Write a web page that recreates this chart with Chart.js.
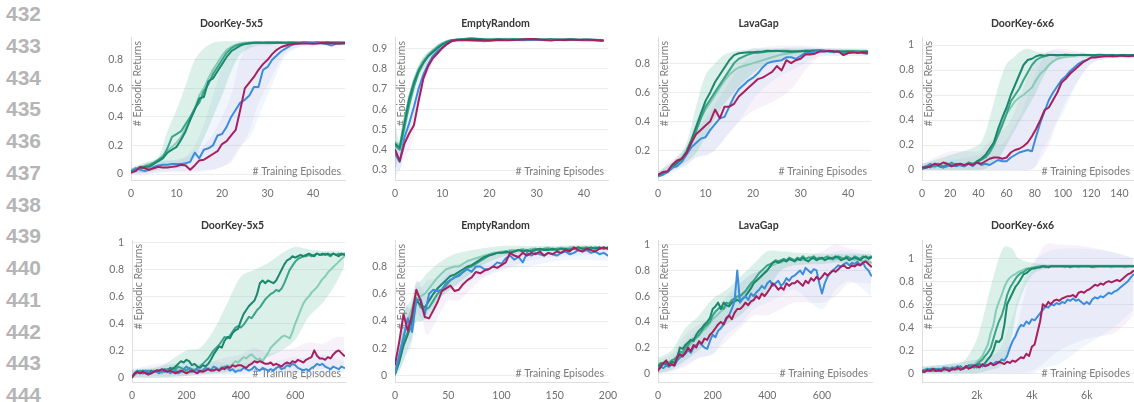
<!DOCTYPE html>
<html><head><meta charset="utf-8">
<script src="https://cdn.jsdelivr.net/npm/chart.js@4.4.0/dist/chart.umd.min.js"></script>
<style>
html,body{margin:0;padding:0;background:#fff;width:1134px;height:402px;overflow:hidden;position:relative}
.ln{position:absolute;left:6px;font:bold 21px "Liberation Sans",Arial,sans-serif;color:#b5b5b5;line-height:21px;white-space:nowrap}
canvas{position:absolute}
</style></head><body>
<div id="nums"></div>
<script>
// ---------------- DATA ----------------
const lineNumbers = [432,433,434,435,436,437,438,439,440,441,442,443,444];
const titles = ['DoorKey-5x5','EmptyRandom','LavaGap','DoorKey-6x6','DoorKey-5x5','EmptyRandom','LavaGap','DoorKey-6x6'];
const yAxisLabel = '# Episodic Returns';
const xAxisLabel = '# Training Episodes';

// Panel 1: DoorKey-5x5 (top)
const p1Step = 1;
const p1XTicks = [0,10,20,30,40];
const p1YTicks = [0,0.2,0.4,0.6,0.8];
const p1TealA = [0.02,0.03,0.04,0.05,0.05,0.07,0.09,0.11,0.15,0.17,0.19,0.24,0.3,0.38,0.45,0.53,0.54,0.65,0.67,0.72,0.77,0.82,0.86,0.88,0.9,0.91,0.915,0.92,0.92,0.92,0.921,0.92,0.922,0.92,0.92,0.921,0.92,0.92,0.922,0.92,0.92,0.921,0.92,0.923,0.92,0.922,0.92,0.92];
const p1TealB = [0.02,0.03,0.04,0.05,0.06,0.08,0.1,0.12,0.18,0.26,0.28,0.3,0.35,0.4,0.46,0.5,0.58,0.63,0.7,0.75,0.8,0.85,0.88,0.9,0.91,0.915,0.92,0.92,0.921,0.92,0.92,0.922,0.92,0.921,0.92,0.92,0.921,0.92,0.922,0.92,0.92,0.921,0.92,0.92,0.922,0.92,0.921,0.92];
const p1TealC = [0.03,0.04,0.05,0.06,0.07,0.08,0.1,0.13,0.16,0.19,0.22,0.26,0.32,0.38,0.46,0.55,0.6,0.67,0.73,0.78,0.83,0.87,0.89,0.905,0.915,0.92,0.92,0.921,0.92,0.92,0.922,0.92,0.921,0.92,0.92,0.921,0.92,0.92,0.922,0.92,0.921,0.92,0.92,0.921,0.92,0.92,0.921,0.92];
const p1Blue = [0.01,0.04,0.03,0.02,0.03,0.05,0.06,0.065,0.065,0.07,0.07,0.07,0.075,0.085,0.15,0.11,0.17,0.18,0.2,0.27,0.28,0.33,0.4,0.45,0.5,0.52,0.55,0.61,0.61,0.73,0.75,0.8,0.83,0.86,0.88,0.9,0.91,0.915,0.92,0.92,0.918,0.92,0.915,0.91,0.9,0.912,0.915,0.915];
const p1Pink = [0.01,0.02,0.05,0.04,0.03,0.04,0.05,0.045,0.045,0.05,0.055,0.065,0.06,0.03,0.06,0.095,0.1,0.12,0.14,0.16,0.21,0.23,0.27,0.31,0.45,0.6,0.64,0.68,0.73,0.77,0.8,0.84,0.87,0.89,0.9,0.91,0.912,0.915,0.915,0.915,0.912,0.915,0.92,0.915,0.918,0.915,0.915,0.918];
const p1BandX  = [0,3,6,8,10,12,14,16,18,20,22,24,26,28,30,32,34,37,40,47];
const p1TealLo = [0,0.01,0.03,0.04,0.04,0.06,0.12,0.25,0.4,0.55,0.72,0.84,0.88,0.9,0.9,0.91,0.91,0.91,0.91,0.91];
const p1TealHi = [0.04,0.08,0.12,0.3,0.45,0.62,0.8,0.88,0.92,0.93,0.93,0.93,0.93,0.93,0.93,0.93,0.93,0.93,0.93,0.93];
const p1BlueLo = [0,0,0.01,0.02,0.02,0.02,0.02,0.03,0.03,0.05,0.1,0.2,0.25,0.4,0.55,0.7,0.83,0.89,0.9,0.9];
const p1BlueHi = [0.03,0.06,0.09,0.1,0.1,0.12,0.2,0.35,0.55,0.75,0.85,0.9,0.92,0.92,0.93,0.93,0.93,0.93,0.93,0.93];
const p1PinkLo = [0,0,0.01,0.01,0.01,0.01,0.01,0.02,0.03,0.05,0.08,0.18,0.3,0.5,0.62,0.75,0.85,0.89,0.9,0.9];
const p1PinkHi = [0.03,0.07,0.09,0.09,0.1,0.12,0.15,0.2,0.28,0.4,0.55,0.8,0.92,0.93,0.93,0.93,0.93,0.93,0.93,0.93];

// Panel 2: EmptyRandom (top)
const p2Step = 1;
const p2XTicks = [0,10,20,30,40];
const p2YTicks = [0.3,0.4,0.5,0.6,0.7,0.8,0.9];
const p2TealA = [0.43,0.41,0.53,0.65,0.73,0.79,0.83,0.86,0.88,0.9,0.918,0.93,0.938,0.941,0.943,0.945,0.948,0.947,0.945,0.943,0.942,0.943,0.944,0.942,0.943,0.944,0.943,0.942,0.944,0.945,0.943,0.942,0.943,0.944,0.942,0.941,0.943,0.944,0.943,0.942,0.941,0.942,0.941,0.94,0.939];
const p2TealB = [0.42,0.4,0.51,0.62,0.71,0.78,0.825,0.86,0.885,0.905,0.92,0.932,0.939,0.942,0.944,0.946,0.947,0.946,0.944,0.943,0.943,0.942,0.943,0.944,0.943,0.942,0.943,0.944,0.943,0.944,0.943,0.942,0.942,0.943,0.943,0.942,0.942,0.943,0.942,0.941,0.942,0.941,0.94,0.94,0.939];
const p2TealC = [0.44,0.42,0.55,0.66,0.74,0.8,0.84,0.87,0.89,0.91,0.925,0.935,0.94,0.942,0.944,0.945,0.946,0.945,0.944,0.943,0.942,0.943,0.943,0.944,0.943,0.943,0.942,0.943,0.944,0.944,0.943,0.943,0.942,0.943,0.942,0.942,0.943,0.943,0.942,0.942,0.941,0.942,0.941,0.94,0.94];
const p2Blue = [0.38,0.34,0.46,0.53,0.61,0.7,0.77,0.82,0.86,0.885,0.905,0.92,0.935,0.938,0.94,0.939,0.938,0.936,0.935,0.934,0.937,0.938,0.94,0.939,0.94,0.941,0.94,0.939,0.94,0.941,0.942,0.94,0.939,0.94,0.941,0.94,0.939,0.94,0.941,0.94,0.939,0.94,0.939,0.938,0.937];
const p2Pink = [0.4,0.345,0.43,0.48,0.52,0.64,0.75,0.81,0.85,0.875,0.9,0.92,0.935,0.94,0.94,0.94,0.941,0.94,0.94,0.939,0.938,0.94,0.941,0.94,0.939,0.94,0.941,0.943,0.944,0.945,0.944,0.942,0.94,0.938,0.94,0.941,0.94,0.942,0.941,0.94,0.942,0.941,0.94,0.939,0.937];
const p2BandX  = [0,1,2,3,4,5,6,8,10,12,20,30,44];
const p2TealLo = [0.3,0.38,0.47,0.58,0.67,0.75,0.8,0.86,0.9,0.93,0.935,0.935,0.932];
const p2TealHi = [0.53,0.44,0.56,0.68,0.76,0.82,0.86,0.9,0.93,0.945,0.952,0.95,0.947];
const p2BlueLo = [0.27,0.3,0.4,0.48,0.56,0.65,0.73,0.83,0.89,0.925,0.93,0.933,0.93];
const p2BlueHi = [0.45,0.38,0.5,0.58,0.66,0.75,0.81,0.88,0.92,0.945,0.945,0.947,0.945];
const p2PinkLo = [0.32,0.3,0.36,0.4,0.47,0.6,0.7,0.82,0.89,0.925,0.932,0.935,0.932];
const p2PinkHi = [0.45,0.4,0.48,0.53,0.6,0.7,0.8,0.89,0.925,0.945,0.945,0.95,0.945];

// Panel 3: LavaGap (top)
const p3Step = 1;
const p3XTicks = [0,10,20,30,40];
const p3YTicks = [0.2,0.4,0.6,0.8];
const p3TealA = [0.03,0.04,0.05,0.08,0.11,0.14,0.19,0.27,0.36,0.45,0.54,0.6,0.67,0.72,0.77,0.82,0.855,0.868,0.872,0.875,0.875,0.878,0.88,0.885,0.883,0.885,0.882,0.88,0.878,0.88,0.882,0.885,0.884,0.886,0.888,0.886,0.883,0.88,0.878,0.88,0.882,0.88,0.877,0.879,0.881];
const p3TealB = [0.03,0.035,0.05,0.09,0.12,0.14,0.18,0.25,0.33,0.42,0.5,0.55,0.6,0.65,0.7,0.75,0.8,0.83,0.845,0.86,0.87,0.872,0.875,0.88,0.882,0.884,0.886,0.885,0.883,0.882,0.884,0.886,0.887,0.888,0.886,0.884,0.882,0.88,0.881,0.879,0.878,0.88,0.882,0.88,0.878];
const p3TealC = [0.03,0.04,0.05,0.09,0.12,0.15,0.2,0.27,0.35,0.42,0.48,0.53,0.58,0.63,0.68,0.72,0.75,0.77,0.78,0.79,0.8,0.81,0.82,0.83,0.84,0.85,0.86,0.865,0.87,0.875,0.878,0.88,0.882,0.884,0.886,0.885,0.884,0.882,0.881,0.88,0.879,0.88,0.878,0.877,0.876];
const p3Blue = [0.02,0.03,0.05,0.08,0.09,0.12,0.17,0.22,0.25,0.28,0.29,0.34,0.38,0.42,0.43,0.5,0.57,0.62,0.65,0.68,0.7,0.73,0.77,0.8,0.81,0.815,0.82,0.84,0.84,0.83,0.85,0.87,0.87,0.88,0.885,0.885,0.88,0.875,0.88,0.86,0.87,0.875,0.88,0.87,0.865];
const p3Pink = [0.03,0.05,0.055,0.1,0.13,0.14,0.18,0.25,0.31,0.34,0.37,0.4,0.48,0.42,0.5,0.5,0.52,0.57,0.6,0.63,0.66,0.69,0.7,0.72,0.74,0.78,0.75,0.82,0.8,0.82,0.83,0.86,0.86,0.865,0.88,0.88,0.885,0.88,0.88,0.855,0.87,0.875,0.87,0.875,0.87];
const p3BandX  = [0,4,6,8,10,12,14,16,18,20,22,25,28,31,34,38,44];
const p3TealLo = [0.02,0.08,0.12,0.18,0.3,0.42,0.52,0.6,0.67,0.73,0.78,0.82,0.84,0.86,0.87,0.87,0.87];
const p3TealHi = [0.05,0.15,0.25,0.5,0.72,0.8,0.86,0.88,0.89,0.9,0.9,0.9,0.9,0.9,0.9,0.9,0.9];
const p3BlueLo = [0.01,0.06,0.1,0.15,0.17,0.2,0.28,0.36,0.45,0.55,0.62,0.7,0.75,0.8,0.85,0.85,0.85];
const p3BlueHi = [0.05,0.13,0.22,0.32,0.42,0.52,0.62,0.72,0.8,0.85,0.88,0.9,0.91,0.91,0.9,0.9,0.89];
const p3PinkLo = [0.02,0.07,0.1,0.15,0.16,0.2,0.28,0.36,0.42,0.47,0.5,0.55,0.62,0.75,0.84,0.85,0.85];
const p3PinkHi = [0.05,0.16,0.23,0.4,0.5,0.62,0.72,0.8,0.86,0.9,0.91,0.92,0.92,0.92,0.91,0.9,0.89];

// Panel 4: DoorKey-6x6 (top)
const p4Step = 3;
const p4XTicks = [0,20,40,60,80,100,120,140];
const p4YTicks = [0,0.2,0.4,0.6,0.8,1];
const p4TealA = [0.01,0.02,0.03,0.05,0.03,0.02,0.04,0.03,0.05,0.04,0.03,0.05,0.04,0.07,0.09,0.12,0.17,0.22,0.33,0.42,0.5,0.6,0.68,0.76,0.84,0.88,0.89,0.91,0.92,0.915,0.92,0.92,0.918,0.92,0.922,0.92,0.918,0.92,0.921,0.92,0.919,0.92,0.922,0.92,0.918,0.92,0.919,0.92,0.921,0.92,0.918];
const p4TealB = [0.02,0.03,0.02,0.04,0.05,0.03,0.04,0.06,0.04,0.05,0.03,0.06,0.05,0.06,0.08,0.1,0.14,0.2,0.28,0.36,0.45,0.55,0.6,0.65,0.72,0.78,0.84,0.88,0.9,0.91,0.92,0.92,0.918,0.92,0.921,0.92,0.919,0.92,0.922,0.92,0.918,0.92,0.921,0.92,0.919,0.92,0.92,0.921,0.92,0.919,0.92];
const p4TealC = [0.01,0.02,0.03,0.02,0.04,0.03,0.05,0.04,0.03,0.05,0.04,0.06,0.05,0.07,0.09,0.12,0.17,0.22,0.3,0.38,0.45,0.5,0.55,0.58,0.6,0.63,0.66,0.72,0.77,0.8,0.84,0.87,0.89,0.9,0.905,0.91,0.915,0.92,0.92,0.918,0.92,0.921,0.92,0.919,0.92,0.92,0.921,0.92,0.919,0.92,0.92];
const p4Blue = [0.01,0.03,0.05,0.03,0.04,0.02,0.03,0.05,0.03,0.04,0.03,0.05,0.03,0.06,0.04,0.05,0.04,0.06,0.08,0.07,0.07,0.1,0.12,0.14,0.15,0.16,0.15,0.27,0.38,0.47,0.56,0.62,0.67,0.72,0.75,0.79,0.82,0.85,0.87,0.88,0.9,0.905,0.91,0.91,0.915,0.91,0.92,0.915,0.912,0.915,0.91];
const p4Pink = [0.02,0.02,0.03,0.05,0.04,0.06,0.05,0.03,0.04,0.05,0.04,0.05,0.04,0.06,0.05,0.07,0.09,0.1,0.1,0.09,0.1,0.14,0.16,0.17,0.19,0.22,0.27,0.33,0.4,0.48,0.5,0.56,0.62,0.7,0.73,0.77,0.8,0.83,0.86,0.88,0.9,0.9,0.905,0.91,0.91,0.912,0.91,0.915,0.912,0.91,0.915];
const p4BandX  = [0,20,40,45,50,55,60,65,70,75,80,85,90,95,100,110,120,130,150];
const p4TealLo = [0,0,0,0.01,0.05,0.1,0.2,0.3,0.4,0.5,0.6,0.72,0.82,0.87,0.89,0.9,0.9,0.9,0.9];
const p4TealHi = [0.05,0.12,0.2,0.3,0.5,0.7,0.85,0.9,0.95,0.97,0.95,0.94,0.94,0.93,0.93,0.93,0.93,0.93,0.93];
const p4BlueLo = [0,0,0,0,0,0,0,0,0,0,0.02,0.15,0.25,0.38,0.45,0.7,0.85,0.89,0.9];
const p4BlueHi = [0.05,0.08,0.12,0.15,0.18,0.2,0.25,0.35,0.45,0.6,0.75,0.88,0.95,0.96,0.95,0.94,0.93,0.93,0.93];
const p4PinkLo = [0,0,0,0,0,0,0,0,0,0,0.02,0.1,0.2,0.35,0.5,0.7,0.85,0.89,0.9];
const p4PinkHi = [0.05,0.15,0.15,0.2,0.25,0.3,0.35,0.45,0.6,0.75,0.85,0.92,0.95,0.97,0.97,0.95,0.93,0.93,0.93];

// Panel 5: DoorKey-5x5 (bottom)
const p5Step = 10;
const p5XTicks = [0,200,400,600];
const p5YTicks = [0,0.2,0.4,0.6,0.8,1];
const p5TealA = [0,0.03,0.04,0.03,0.05,0.04,0.03,0.05,0.04,0.05, 0.04,0.05,0.06,0.05,0.07,0.06,0.08,0.1,0.12,0.11, 0.13,0.12,0.09,0.1,0.08,0.07,0.09,0.08,0.1,0.13, 0.17,0.2,0.23,0.22,0.27,0.3,0.29,0.33,0.35,0.36, 0.42,0.47,0.5,0.53,0.55,0.57,0.62,0.7,0.72,0.7, 0.72,0.71,0.7,0.72,0.76,0.8,0.84,0.87,0.88,0.9, 0.89,0.9,0.91,0.9,0.91,0.92,0.91,0.9,0.92,0.91, 0.92,0.91,0.92,0.91,0.92,0.91,0.9,0.92,0.91];
const p5TealB = [0,0.02,0.04,0.05,0.03,0.04,0.05,0.03,0.04,0.05, 0.05,0.04,0.05,0.06,0.05,0.07,0.06,0.08,0.07,0.06, 0.05,0.07,0.06,0.05,0.07,0.08,0.1,0.12,0.14,0.17, 0.2,0.22,0.24,0.27,0.3,0.29,0.31,0.34,0.37,0.38, 0.37,0.39,0.42,0.45,0.44,0.47,0.5,0.52,0.55,0.58, 0.6,0.62,0.63,0.65,0.64,0.66,0.7,0.75,0.8,0.83, 0.86,0.88,0.89,0.9,0.9,0.91,0.9,0.91,0.92,0.91, 0.91,0.92,0.91,0.9,0.92,0.91,0.92,0.91,0.92];
const p5TealC = [0,0.02,0.03,0.04,0.03,0.05,0.04,0.03,0.04,0.05, 0.04,0.03,0.05,0.04,0.06,0.05,0.04,0.06,0.05,0.04, 0.05,0.04,0.05,0.06,0.05,0.04,0.06,0.05,0.07,0.06, 0.05,0.07,0.06,0.08,0.07,0.09,0.08,0.1,0.12,0.11, 0.13,0.15,0.14,0.16,0.17,0.15,0.13,0.14,0.12,0.15, 0.18,0.22,0.24,0.26,0.28,0.3,0.31,0.3,0.29,0.34, 0.4,0.45,0.5,0.55,0.58,0.6,0.63,0.65,0.67,0.7, 0.73,0.75,0.78,0.8,0.82,0.84,0.86,0.88,0.9];
const p5Blue = [0,0.03,0.05,0.04,0.03,0.05,0.04,0.03,0.05,0.04, 0.03,0.05,0.04,0.06,0.03,0.04,0.05,0.03,0.04,0.06, 0.08,0.06,0.04,0.05,0.06,0.04,0.05,0.07,0.06,0.05, 0.08,0.07,0.05,0.06,0.08,0.07,0.05,0.06,0.04,0.05, 0.05,0.07,0.06,0.05,0.06,0.08,0.06,0.05,0.07,0.06, 0.05,0.06,0.05,0.07,0.08,0.06,0.07,0.09,0.08,0.1, 0.09,0.07,0.06,0.05,0.06,0.05,0.07,0.08,0.1,0.09, 0.1,0.08,0.07,0.06,0.08,0.07,0.06,0.08,0.07];
const p5Pink = [0,0.03,0.04,0.03,0.04,0.03,0.02,0.03,0.04,0.05, 0.05,0.06,0.05,0.04,0.05,0.04,0.03,0.04,0.05,0.04, 0.03,0.04,0.05,0.04,0.03,0.05,0.04,0.05,0.06,0.05, 0.05,0.06,0.05,0.07,0.06,0.08,0.07,0.09,0.08,0.09, 0.09,0.08,0.07,0.09,0.1,0.12,0.11,0.12,0.11,0.1, 0.1,0.11,0.09,0.1,0.09,0.08,0.1,0.11,0.1,0.12, 0.11,0.13,0.12,0.11,0.13,0.14,0.15,0.2,0.16,0.14, 0.14,0.13,0.15,0.14,0.17,0.19,0.2,0.18,0.16];
const p5BandX  = [0,100,200,250,300,350,400,450,500,550,600,650,700,750,780];
const p5TealLo = [0,0,0.01,0.02,0.03,0.04,0.06,0.1,0.15,0.2,0.28,0.45,0.55,0.7,0.82];
const p5TealHi = [0.05,0.08,0.2,0.22,0.35,0.55,0.75,0.8,0.85,0.92,0.97,0.95,0.94,0.94,0.93];
const p5BlueLo = [0,0,0.01,0.02,0.02,0.02,0.02,0.02,0.02,0.03,0.03,0.02,0.03,0.03,0.04];
const p5BlueHi = [0.06,0.08,0.12,0.1,0.12,0.1,0.1,0.12,0.1,0.13,0.15,0.14,0.17,0.14,0.12];
const p5PinkLo = [0,0.01,0.01,0.01,0.02,0.02,0.03,0.04,0.05,0.04,0.05,0.06,0.06,0.08,0.08];
const p5PinkHi = [0.06,0.1,0.08,0.1,0.12,0.15,0.17,0.22,0.18,0.2,0.22,0.26,0.25,0.3,0.3];

// Panel 6: EmptyRandom (bottom)
const p6Step = 4;
const p6XTicks = [0,50,100,150,200];
const p6YTicks = [0,0.2,0.4,0.6,0.8];
const p6TealA = [0.01,0.1,0.22,0.3,0.4,0.55,0.52,0.5,0.55,0.6, 0.64,0.67,0.7,0.73,0.74,0.76,0.78,0.8,0.81,0.83, 0.85,0.87,0.88,0.89,0.9,0.9,0.91,0.9,0.91,0.92, 0.91,0.92,0.91,0.92,0.93,0.92,0.92,0.93,0.92,0.93, 0.93,0.92,0.93,0.94,0.93,0.93,0.94,0.93,0.94,0.93, 0.94];
const p6TealB = [0.02,0.12,0.25,0.32,0.42,0.57,0.5,0.48,0.5,0.55, 0.6,0.63,0.66,0.7,0.72,0.74,0.76,0.79,0.8,0.82, 0.84,0.86,0.88,0.89,0.9,0.9,0.9,0.91,0.91,0.92, 0.92,0.91,0.92,0.93,0.92,0.93,0.93,0.92,0.93,0.93, 0.92,0.93,0.93,0.94,0.93,0.94,0.93,0.94,0.93,0.94, 0.93];
const p6TealC = [0.03,0.15,0.3,0.4,0.5,0.6,0.58,0.6,0.64,0.68, 0.72,0.75,0.78,0.79,0.8,0.8,0.82,0.84,0.85,0.86, 0.87,0.88,0.89,0.9,0.9,0.91,0.91,0.92,0.92,0.92, 0.93,0.92,0.93,0.93,0.92,0.93,0.94,0.93,0.93,0.94, 0.93,0.94,0.94,0.93,0.94,0.94,0.93,0.94,0.94,0.93, 0.94];
const p6Blue = [0.01,0.15,0.28,0.42,0.32,0.55,0.56,0.45,0.6,0.63, 0.62,0.63,0.68,0.7,0.72,0.73,0.76,0.78,0.76,0.8, 0.8,0.78,0.78,0.8,0.83,0.82,0.86,0.88,0.85,0.87, 0.83,0.9,0.88,0.9,0.89,0.88,0.9,0.89,0.88,0.9, 0.91,0.89,0.9,0.92,0.91,0.92,0.9,0.91,0.89,0.9, 0.88];
const p6Pink = [0.08,0.25,0.45,0.33,0.45,0.63,0.55,0.43,0.42,0.48, 0.54,0.62,0.64,0.66,0.62,0.63,0.67,0.7,0.72,0.76, 0.75,0.77,0.78,0.8,0.79,0.81,0.83,0.9,0.88,0.87, 0.9,0.88,0.9,0.89,0.91,0.88,0.9,0.89,0.91,0.9, 0.92,0.91,0.94,0.92,0.91,0.93,0.92,0.91,0.93,0.94, 0.93];
const p6BandX  = [0,5,10,15,20,25,30,40,50,60,80,100,125,150,175,200];
const p6TealLo = [0,0.05,0.15,0.25,0.4,0.4,0.42,0.55,0.62,0.68,0.8,0.87,0.9,0.91,0.92,0.92];
const p6TealHi = [0.08,0.3,0.5,0.55,0.68,0.7,0.75,0.82,0.87,0.9,0.93,0.95,0.95,0.95,0.96,0.95];
const p6BlueLo = [0,0.05,0.15,0.2,0.4,0.4,0.45,0.55,0.62,0.66,0.72,0.78,0.8,0.84,0.85,0.84];
const p6BlueHi = [0.05,0.3,0.5,0.5,0.65,0.65,0.7,0.72,0.8,0.82,0.87,0.9,0.93,0.94,0.95,0.93];
const p6PinkLo = [0.02,0.15,0.3,0.25,0.45,0.42,0.3,0.42,0.55,0.55,0.7,0.77,0.84,0.87,0.88,0.9];
const p6PinkHi = [0.12,0.35,0.55,0.45,0.7,0.65,0.58,0.65,0.75,0.75,0.85,0.9,0.93,0.94,0.95,0.95];

// Panel 7: LavaGap (bottom)
const p7Step = 10;
const p7XTicks = [0,200,400,600];
const p7YTicks = [0,0.2,0.4,0.6,0.8,1];
const p7TealA = [0.05,0.07,0.08,0.07,0.06,0.09,0.08,0.12,0.2,0.19, 0.22,0.24,0.26,0.25,0.3,0.33,0.35,0.38,0.4,0.43, 0.5,0.52,0.55,0.5,0.55,0.53,0.52,0.55,0.56,0.57, 0.56,0.58,0.6,0.63,0.66,0.7,0.72,0.74,0.76,0.78, 0.8,0.83,0.86,0.87,0.86,0.87,0.88,0.87,0.89,0.88, 0.87,0.89,0.88,0.9,0.88,0.87,0.89,0.9,0.88,0.89, 0.9,0.88,0.89,0.9,0.89,0.91,0.9,0.88,0.89,0.9, 0.88,0.89,0.9,0.89,0.88,0.9,0.91,0.89,0.9];
const p7TealB = [0.06,0.08,0.07,0.09,0.08,0.1,0.11,0.13,0.17,0.16, 0.2,0.22,0.25,0.27,0.28,0.3,0.33,0.36,0.38,0.4, 0.45,0.48,0.5,0.52,0.5,0.55,0.54,0.57,0.58,0.6, 0.6,0.62,0.64,0.67,0.7,0.72,0.75,0.78,0.8,0.82, 0.84,0.85,0.86,0.88,0.87,0.88,0.89,0.88,0.9,0.89, 0.88,0.9,0.89,0.91,0.89,0.9,0.9,0.91,0.89,0.9, 0.89,0.9,0.91,0.89,0.9,0.9,0.91,0.9,0.89,0.91, 0.9,0.89,0.91,0.9,0.89,0.91,0.9,0.9,0.91];
const p7TealC = [0.04,0.06,0.07,0.06,0.08,0.1,0.09,0.11,0.14,0.15, 0.18,0.2,0.23,0.25,0.27,0.29,0.32,0.34,0.36,0.39, 0.42,0.44,0.46,0.48,0.5,0.52,0.53,0.55,0.57,0.58, 0.59,0.61,0.63,0.65,0.68,0.7,0.72,0.74,0.76,0.79, 0.81,0.83,0.84,0.85,0.86,0.86,0.87,0.87,0.88,0.88, 0.88,0.88,0.89,0.88,0.89,0.88,0.89,0.89,0.88,0.89, 0.89,0.88,0.89,0.89,0.88,0.89,0.89,0.88,0.89,0.89, 0.88,0.89,0.88,0.89,0.88,0.87,0.88,0.87,0.86];
const p7Blue = [0.03,0.05,0.04,0.06,0.05,0.07,0.06,0.1,0.12,0.14, 0.15,0.18,0.16,0.2,0.22,0.24,0.22,0.2,0.19,0.25, 0.3,0.28,0.33,0.35,0.38,0.42,0.45,0.5,0.56,0.8, 0.55,0.58,0.6,0.57,0.62,0.6,0.63,0.65,0.68,0.66, 0.7,0.72,0.68,0.7,0.72,0.68,0.7,0.74,0.72,0.75, 0.76,0.78,0.8,0.77,0.82,0.8,0.78,0.81,0.8,0.7, 0.62,0.7,0.75,0.78,0.8,0.82,0.84,0.83,0.85,0.86, 0.84,0.86,0.85,0.87,0.84,0.86,0.82,0.8,0.76];
const p7Pink = [0.02,0.05,0.08,0.1,0.06,0.07,0.06,0.12,0.15,0.13, 0.16,0.2,0.17,0.22,0.2,0.25,0.23,0.27,0.26,0.3, 0.32,0.35,0.38,0.4,0.38,0.43,0.45,0.42,0.47,0.5, 0.5,0.52,0.55,0.53,0.56,0.57,0.6,0.58,0.62,0.6, 0.63,0.66,0.7,0.68,0.65,0.67,0.65,0.7,0.68,0.7, 0.7,0.72,0.7,0.68,0.72,0.7,0.74,0.72,0.75,0.73, 0.75,0.78,0.76,0.78,0.8,0.79,0.81,0.83,0.84,0.82, 0.82,0.84,0.83,0.85,0.84,0.86,0.87,0.85,0.83];
const p7BandX  = [0,50,100,150,200,250,300,350,400,450,500,600,650,700,780];
const p7TealLo = [0,0.03,0.1,0.18,0.28,0.38,0.45,0.55,0.65,0.8,0.84,0.85,0.86,0.86,0.86];
const p7TealHi = [0.12,0.18,0.35,0.45,0.58,0.65,0.75,0.85,0.95,0.95,0.94,0.93,0.93,0.93,0.93];
const p7BlueLo = [0,0.01,0.07,0.12,0.15,0.3,0.38,0.5,0.55,0.6,0.65,0.5,0.65,0.72,0.6];
const p7BlueHi = [0.08,0.12,0.25,0.35,0.45,0.6,0.7,0.78,0.82,0.85,0.88,0.9,0.95,0.95,0.92];
const p7PinkLo = [0,0.02,0.05,0.12,0.15,0.25,0.35,0.45,0.45,0.5,0.55,0.55,0.6,0.7,0.7];
const p7PinkHi = [0.1,0.15,0.3,0.38,0.45,0.55,0.7,0.78,0.8,0.85,0.88,0.95,1.0,0.97,0.95];

// Panel 8: DoorKey-6x6 (bottom)
const p8Step = 100;
const p8XTicks = [2000,4000,6000];
const p8YTicks = [0,0.2,0.4,0.6,0.8,1];
const p8TealA = [0.01,0.02,0.03,0.02,0.04,0.03,0.02,0.03,0.05,0.03, 0.04,0.03,0.05,0.04,0.06,0.04,0.05,0.07,0.06,0.05, 0.07,0.08,0.06,0.09,0.12,0.15,0.2,0.28,0.27,0.3, 0.42,0.6,0.65,0.7,0.75,0.78,0.82,0.86,0.87,0.89, 0.91,0.91,0.92,0.92,0.93,0.93,0.92,0.93,0.93,0.93, 0.93,0.93,0.93,0.93,0.93,0.93,0.93,0.93,0.93,0.93, 0.93,0.93,0.93,0.93,0.93,0.93,0.93,0.93,0.93,0.93, 0.93,0.93,0.93,0.93,0.93,0.93,0.93,0.93];
const p8TealB = [0.02,0.03,0.04,0.03,0.02,0.04,0.03,0.04,0.03,0.05, 0.04,0.05,0.04,0.06,0.05,0.04,0.06,0.05,0.07,0.06, 0.08,0.1,0.12,0.15,0.18,0.22,0.3,0.38,0.45,0.5, 0.58,0.68,0.74,0.78,0.82,0.85,0.87,0.88,0.9,0.91, 0.91,0.92,0.92,0.93,0.93,0.92,0.93,0.93,0.93,0.93, 0.93,0.93,0.93,0.93,0.92,0.93,0.93,0.93,0.93,0.93, 0.93,0.93,0.92,0.93,0.93,0.93,0.93,0.93,0.93,0.93, 0.93,0.93,0.93,0.93,0.93,0.93,0.93,0.93];
const p8TealC = [0.02,0.03,0.02,0.04,0.03,0.02,0.04,0.03,0.02,0.04, 0.03,0.05,0.04,0.03,0.05,0.04,0.06,0.05,0.08,0.07, 0.1,0.12,0.15,0.2,0.25,0.35,0.42,0.55,0.62,0.68, 0.75,0.8,0.83,0.85,0.86,0.88,0.89,0.9,0.91,0.91, 0.92,0.92,0.93,0.92,0.93,0.93,0.92,0.93,0.93,0.93, 0.93,0.93,0.92,0.93,0.93,0.93,0.93,0.92,0.93,0.93, 0.93,0.93,0.93,0.92,0.93,0.93,0.93,0.93,0.93,0.92, 0.93,0.93,0.93,0.93,0.92,0.93,0.93,0.93];
const p8Blue = [0.01,0.03,0.02,0.04,0.03,0.02,0.04,0.03,0.05,0.04, 0.03,0.05,0.04,0.06,0.05,0.04,0.06,0.05,0.07,0.06, 0.05,0.07,0.06,0.08,0.07,0.09,0.08,0.1,0.09,0.12, 0.11,0.15,0.22,0.28,0.32,0.38,0.42,0.41,0.45,0.43, 0.47,0.46,0.49,0.52,0.55,0.58,0.57,0.6,0.59,0.61, 0.6,0.62,0.61,0.64,0.63,0.65,0.63,0.64,0.62,0.6, 0.62,0.6,0.64,0.66,0.65,0.67,0.66,0.68,0.7,0.69, 0.71,0.72,0.74,0.76,0.78,0.8,0.83,0.86];
const p8Pink = [0.02,0.01,0.03,0.02,0.04,0.02,0.03,0.02,0.04,0.03, 0.02,0.04,0.03,0.05,0.03,0.04,0.06,0.04,0.05,0.07, 0.06,0.05,0.08,0.06,0.07,0.09,0.07,0.08,0.1,0.09, 0.08,0.1,0.09,0.11,0.1,0.12,0.14,0.13,0.17,0.15, 0.23,0.25,0.35,0.45,0.6,0.58,0.62,0.6,0.63,0.64, 0.63,0.65,0.66,0.67,0.67,0.68,0.66,0.7,0.71,0.7, 0.72,0.73,0.75,0.77,0.76,0.78,0.77,0.79,0.8,0.79, 0.8,0.81,0.8,0.82,0.84,0.86,0.87,0.89];
const p8BandX  = [0,1000,1500,2000,2500,2800,3000,3300,3500,4000,4500,5000,6000,7000,7700];
const p8TealLo = [0,0,0,0,0.03,0.05,0.1,0.35,0.6,0.85,0.91,0.92,0.92,0.92,0.92];
const p8TealHi = [0.06,0.08,0.1,0.3,0.75,1.0,1.1,1.08,1.0,0.96,0.95,0.95,0.95,0.95,0.95];
const p8BlueLo = [0,0,0,0,0,0,0,0,0,0,0.05,0.08,0.25,0.4,0.55];
const p8BlueHi = [0.05,0.08,0.1,0.12,0.15,0.2,0.3,0.5,0.65,0.95,1.05,1.08,1.08,1.05,1.0];
const p8PinkLo = [0,0,0,0,0,0,0,0,0,0.02,0.1,0.2,0.3,0.35,0.5];
const p8PinkHi = [0.05,0.08,0.1,0.12,0.15,0.18,0.2,0.3,0.45,0.9,1.12,1.12,1.1,1.05,1.0];

// ---------------- STYLE / LAYOUT ----------------
const lineColors = ['#a81f5f','#3b8ddc','#1b876d','#3aa488','#86ccb7']; // pink, blue, tealA, tealB, tealC
const bandColors = ['rgba(70,175,145,0.19)','rgba(110,165,230,0.10)','rgba(190,145,215,0.12)'];
const FONT = 'Lato, "Noto Sans", sans-serif';

const panels = [
  {title:titles[0], L:131, R:345, T:37,  B:180, top:0,   h:200, x:[0,47],   y:[-0.042,0.96], step:p1Step, xt:p1XTicks, yt:p1YTicks, s:[p1Pink,p1Blue,p1TealA,p1TealB,p1TealC], b:[p1BandX,p1TealLo,p1TealHi,p1BlueLo,p1BlueHi,p1PinkLo,p1PinkHi]},
  {title:titles[1], L:395, R:608, T:37,  B:180, top:0,   h:200, x:[0,45.1], y:[0.251,0.955], step:p2Step, xt:p2XTicks, yt:p2YTicks, s:[p2Pink,p2Blue,p2TealA,p2TealB,p2TealC], b:[p2BandX,p2TealLo,p2TealHi,p2BlueLo,p2BlueHi,p2PinkLo,p2PinkHi]},
  {title:titles[2], L:658, R:871, T:37,  B:180, top:0,   h:200, x:[0,44.8], y:[-0.005,0.98], step:p3Step, xt:p3XTicks, yt:p3YTicks, s:[p3Pink,p3Blue,p3TealA,p3TealB,p3TealC], b:[p3BandX,p3TealLo,p3TealHi,p3BlueLo,p3BlueHi,p3PinkLo,p3PinkHi]},
  {title:titles[3], L:922, R:1134,T:37,  B:180, top:0,   h:200, x:[0,150.4],y:[-0.08,1.064], step:p4Step, xt:p4XTicks, yt:p4YTicks, s:[p4Pink,p4Blue,p4TealA,p4TealB,p4TealC], b:[p4BandX,p4TealLo,p4TealHi,p4BlueLo,p4BlueHi,p4PinkLo,p4PinkHi]},
  {title:titles[4], L:132, R:345, T:240, B:382, top:200, h:202, x:[0,783],  y:[-0.035,1.021], step:p5Step, xt:p5XTicks, yt:p5YTicks, s:[p5Pink,p5Blue,p5TealA,p5TealB,p5TealC], b:[p5BandX,p5TealLo,p5TealHi,p5BlueLo,p5BlueHi,p5PinkLo,p5PinkHi]},
  {title:titles[5], L:395, R:608, T:240, B:382, top:200, h:202, x:[0,200],  y:[-0.046,0.994], step:p6Step, xt:p6XTicks, yt:p6YTicks, s:[p6Pink,p6Blue,p6TealA,p6TealB,p6TealC], b:[p6BandX,p6TealLo,p6TealHi,p6BlueLo,p6BlueHi,p6PinkLo,p6PinkHi]},
  {title:titles[6], L:658, R:872, T:240, B:382, top:200, h:202, x:[0,783],  y:[-0.068,1.037], step:p7Step, xt:p7XTicks, yt:p7YTicks, s:[p7Pink,p7Blue,p7TealA,p7TealB,p7TealC], b:[p7BandX,p7TealLo,p7TealHi,p7BlueLo,p7BlueHi,p7PinkLo,p7PinkHi]},
  {title:titles[7], L:922, R:1134,T:240, B:382, top:200, h:202, x:[0,7720], y:[-0.076,1.158], step:p8Step, xt:p8XTicks, yt:p8YTicks, s:[p8Pink,p8Blue,p8TealA,p8TealB,p8TealC], b:[p8BandX,p8TealLo,p8TealHi,p8BlueLo,p8BlueHi,p8PinkLo,p8PinkHi]}
];

// line numbers
const nums = document.getElementById('nums');
lineNumbers.forEach((n,i)=>{
  const d = document.createElement('div');
  d.className='ln'; d.textContent=String(n);
  d.style.top = (3.0 + i*31.75)+'px';
  nums.appendChild(d);
});

const YW = 60, PADR = 24;
const fmt = v => v >= 1000 ? (v/1000)+'k' : String(+v.toFixed(2));

panels.forEach((p,idx)=>{
  const cv = document.createElement('canvas');
  const w = p.R - p.L + YW + PADR;
  cv.width = w; cv.height = p.h;
  cv.style.left = (p.L - YW)+'px'; cv.style.top = p.top+'px';
  cv.style.width = w+'px'; cv.style.height = p.h+'px';
  document.body.appendChild(cv);

  const datasets = [];
  p.s.forEach((arr,k)=>{
    datasets.push({data: arr.map((v,i)=>({x:i*p.step, y:v})), borderColor: lineColors[k], borderWidth: 2, pointRadius:0, fill:false, tension:0});
  });
  const bx = p.b[0];
  for (let g=0; g<3; g++){
    const lo = p.b[1+2*g], hi = p.b[2+2*g];
    datasets.push({data: bx.map((x,i)=>({x, y:lo[i]})), borderWidth:0, borderColor:'rgba(0,0,0,0)', pointRadius:0, fill:false, tension:0.3});
    datasets.push({data: bx.map((x,i)=>({x, y:hi[i]})), borderWidth:0, borderColor:'rgba(0,0,0,0)', pointRadius:0, fill:'-1', backgroundColor: bandColors[g], tension:0.3});
  }

  const txt = {
    id:'txt'+idx,
    beforeDatasetsDraw(chart){
      const a = chart.chartArea, ctx = chart.ctx;
      ctx.save();
      ctx.font = '10.5px '+FONT; ctx.fillStyle = '#7d7d7d';
      ctx.textAlign='right'; ctx.textBaseline='middle';
      ctx.fillText(xAxisLabel, a.right-4, a.bottom-8);
      ctx.translate(a.left+7, a.top+4); ctx.rotate(-Math.PI/2);
      ctx.fillText(yAxisLabel, 0, 0);
      ctx.restore();
    },
    afterDraw(chart){
      const a = chart.chartArea, ctx = chart.ctx;
      ctx.save();
      ctx.font = 'bold 10.5px '+FONT; ctx.fillStyle = '#363636';
      ctx.textAlign='center'; ctx.textBaseline='middle';
      ctx.fillText(p.title, a.left+100.5, p.top===0 ? 24 : 26);
      ctx.restore();
    }
  };

  new Chart(cv, {
    type:'line',
    data:{datasets},
    plugins:[txt],
    options:{
      responsive:false, animation:false, events:[], devicePixelRatio:1,
      layout:{autoPadding:false, padding:{top:p.T-p.top, right:PADR, left:0, bottom:0}},
      plugins:{legend:{display:false}, tooltip:{enabled:false}, title:{display:false}},
      elements:{point:{radius:0}, line:{borderJoinStyle:'round', borderCapStyle:'round'}},
      scales:{
        x:{type:'linear', min:p.x[0], max:p.x[1],
           afterFit:s=>{s.height = p.h - (p.B - p.top);},
           afterBuildTicks:s=>{s.ticks = p.xt.map(v=>({value:v}));},
           grid:{display:false, drawTicks:false},
           border:{display:true, color:'#dedede', width:1},
           ticks:{padding:7, maxRotation:0, autoSkip:false, color:'#6e6e6e', font:{family:FONT, size:10.5}, callback:v=>fmt(v)}},
        y:{type:'linear', min:p.y[0], max:p.y[1],
           afterFit:s=>{s.width = YW;},
           afterBuildTicks:s=>{s.ticks = p.yt.map(v=>({value:v}));},
           grid:{color:'#ededed', drawTicks:false, lineWidth:1},
           border:{display:true, color:'#dedede', width:1},
           ticks:{padding:8, autoSkip:false, color:'#6e6e6e', font:{family:FONT, size:10.5}, callback:v=>fmt(v)}}
      }
    }
  });
});
</script>
</body></html>
